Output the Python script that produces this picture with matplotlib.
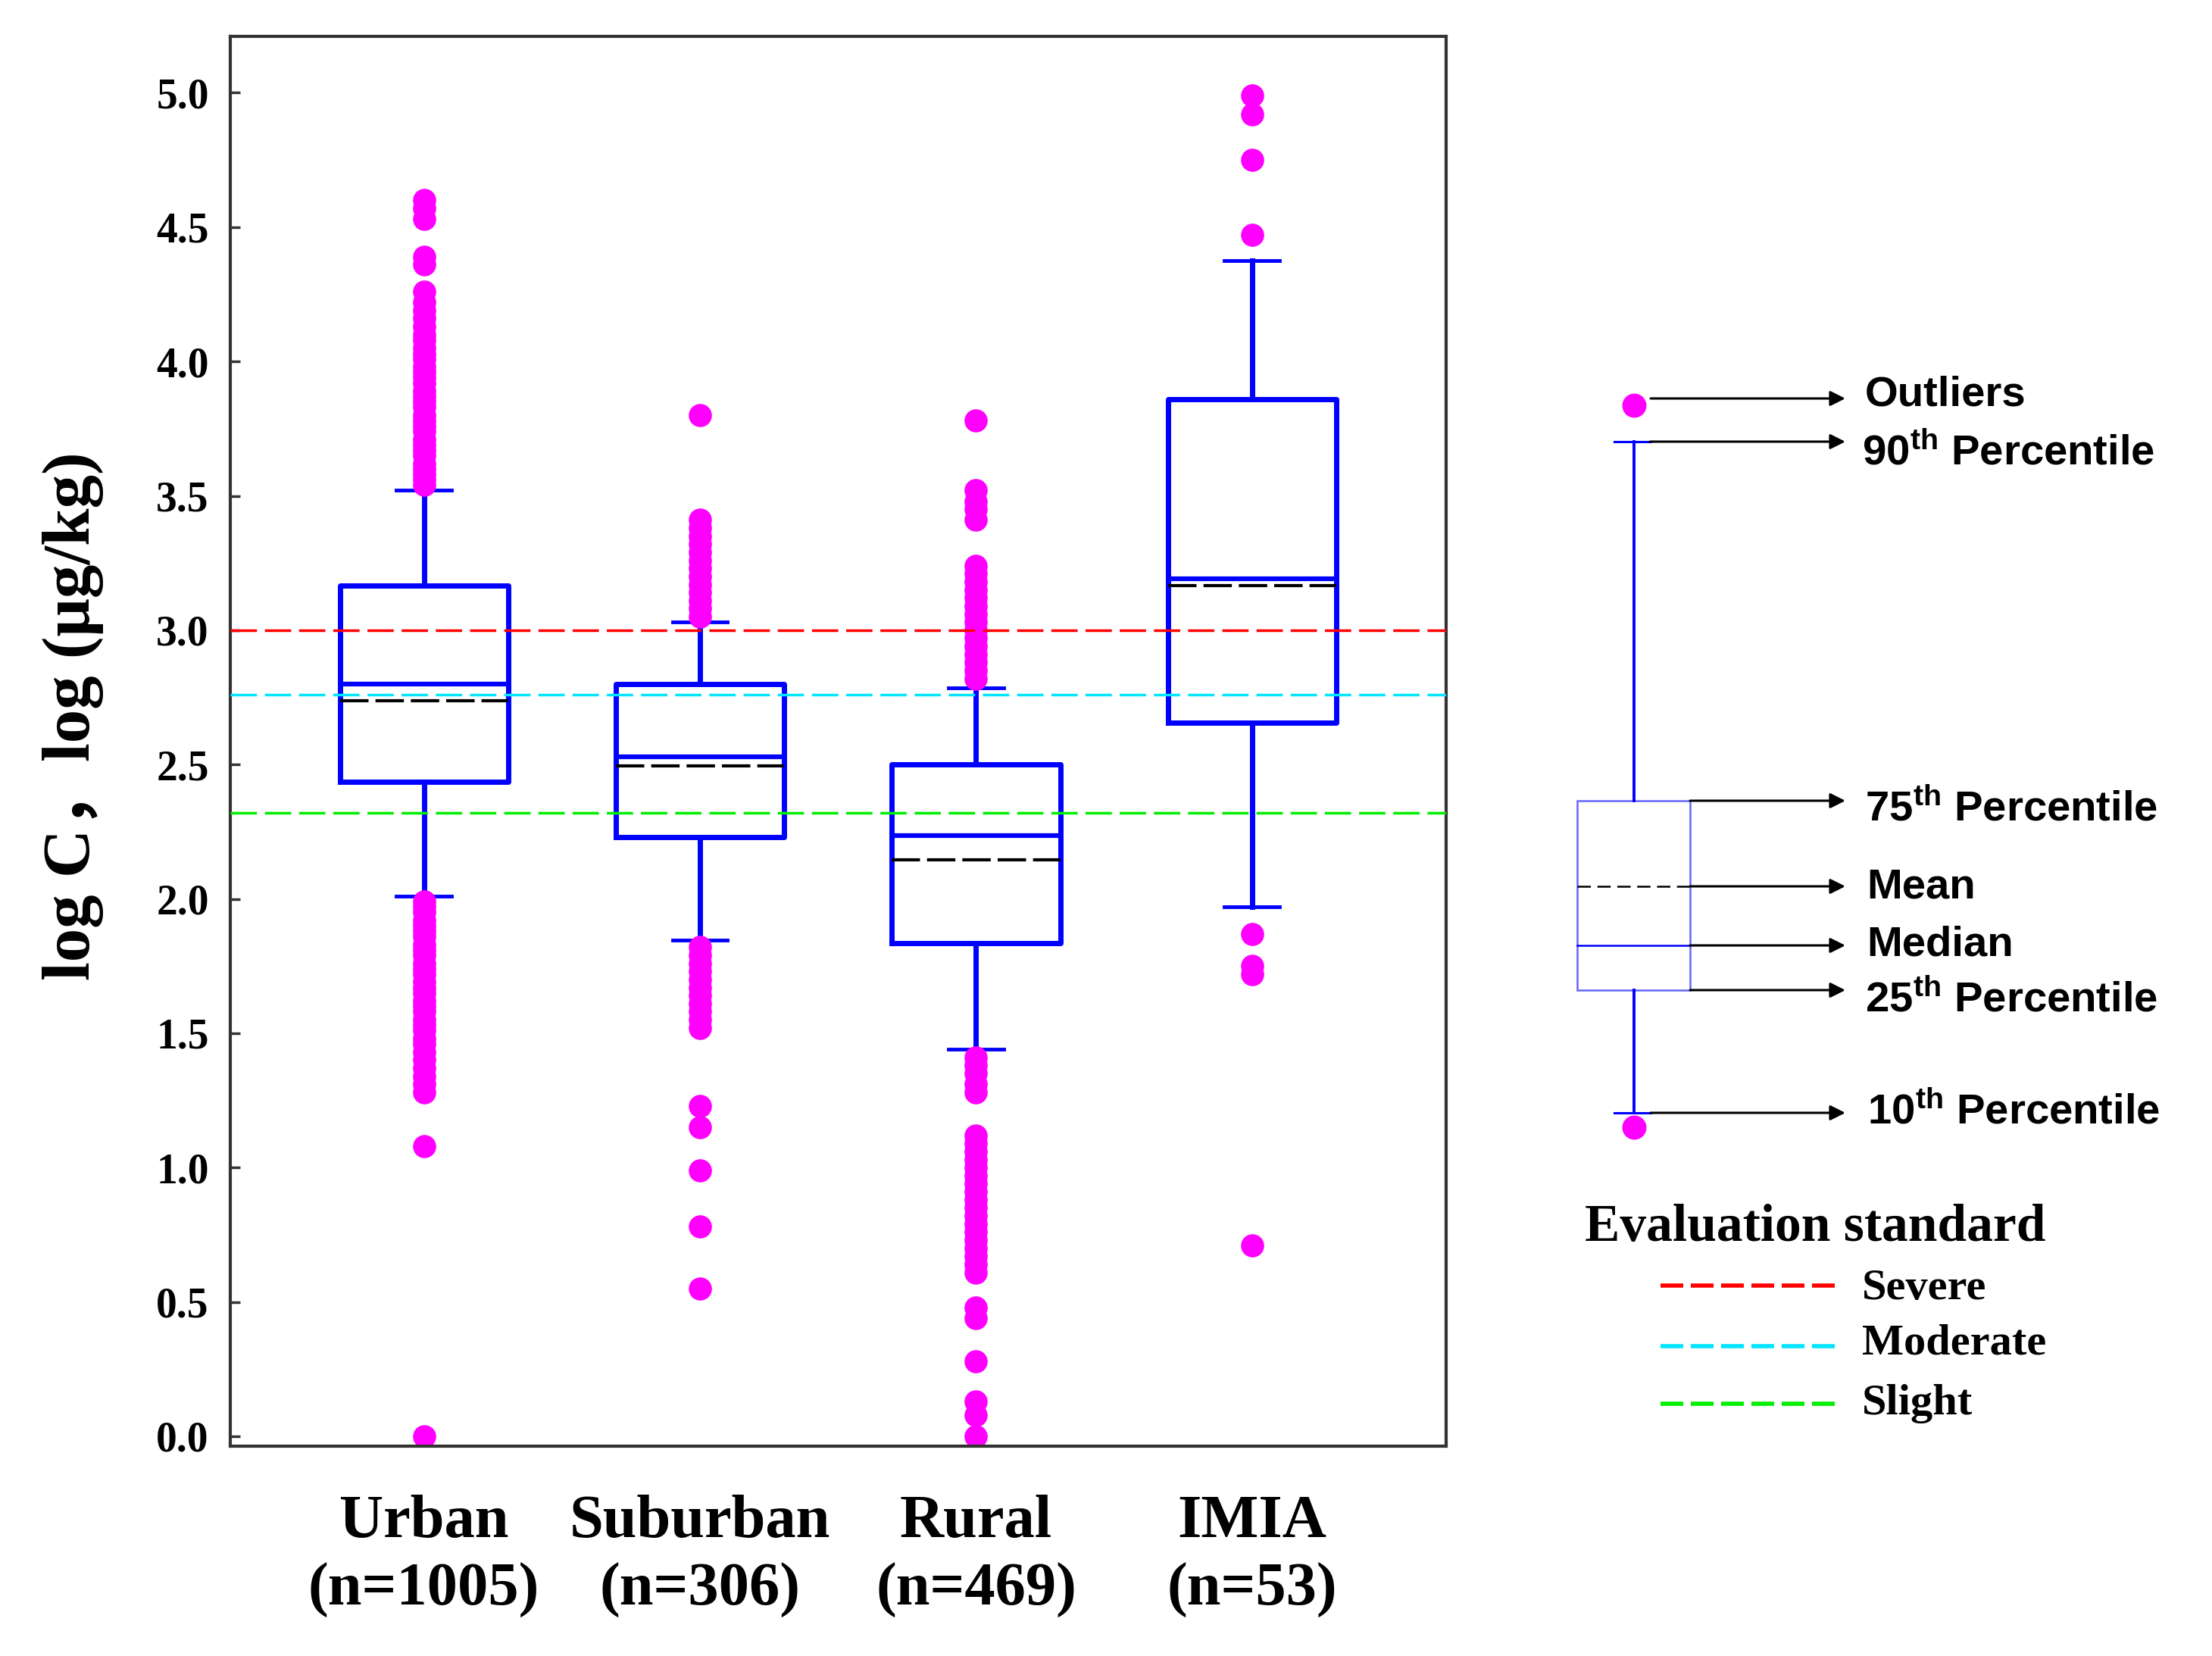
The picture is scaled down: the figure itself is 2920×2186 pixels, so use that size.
import numpy as np
import matplotlib
matplotlib.use('Agg')
import matplotlib.pyplot as plt
from matplotlib.patches import Rectangle

plt.rcParams['mathtext.fontset'] = 'custom'
plt.rcParams['mathtext.rm'] = 'Liberation Sans:bold'
plt.rcParams['mathtext.it'] = 'Liberation Sans:bold'
plt.rcParams['mathtext.bf'] = 'Liberation Sans:bold'
plt.rcParams['mathtext.default'] = 'rm'

# ---------------- data ----------------
categories = ['Urban', 'Suburban', 'Rural', 'IMIA']
sample_sizes = [1005, 306, 469, 53]
p10 = [2.01, 1.845, 1.44, 1.97]
q1 = [2.435, 2.23, 1.835, 2.655]
medians = [2.80, 2.53, 2.235, 3.19]
means = [2.737, 2.495, 2.145, 3.165]
q3 = [3.165, 2.80, 2.50, 3.86]
p90 = [3.52, 3.03, 2.785, 4.375]

outliers_urban = [3.54, 3.56, 3.58, 3.60, 3.62, 3.65, 3.67, 3.69, 3.71, 3.74, 3.76, 3.78,
                  3.80, 3.83, 3.85, 3.87, 3.89, 3.92, 3.94, 3.96, 3.98, 4.01, 4.03, 4.05,
                  4.08, 4.10, 4.13, 4.16, 4.19, 4.22, 4.26, 4.36, 4.39, 4.53, 4.57, 4.60,
                  1.99, 1.97, 1.95, 1.92, 1.90, 1.88, 1.86, 1.83, 1.81, 1.79, 1.76, 1.74,
                  1.72, 1.69, 1.67, 1.65, 1.62, 1.60, 1.58, 1.55, 1.53, 1.51, 1.48, 1.46,
                  1.43, 1.40, 1.37, 1.34, 1.31, 1.28, 1.08, 0.0]
outliers_suburban = [3.80, 3.41, 3.38, 3.35, 3.32, 3.29, 3.26, 3.23, 3.20, 3.17, 3.14, 3.11,
                     3.08, 3.05, 1.82, 1.79, 1.76, 1.73, 1.70, 1.67, 1.64, 1.61, 1.58, 1.55,
                     1.52, 1.23, 1.15, 0.99, 0.78, 0.55]
outliers_rural = [3.78, 3.52, 3.48, 3.45, 3.41, 3.24, 3.21, 3.18, 3.15, 3.12, 3.09, 3.06,
                  3.03, 3.00, 2.97, 2.94, 2.91, 2.88, 2.85, 2.82, 1.41, 1.38, 1.35, 1.31,
                  1.28, 1.12, 1.09, 1.06, 1.03, 1.00, 0.97, 0.94, 0.91, 0.88, 0.85, 0.82,
                  0.79, 0.76, 0.73, 0.70, 0.67, 0.64, 0.61, 0.48, 0.44, 0.28, 0.13, 0.08, 0.0]
outliers_imia = [4.99, 4.92, 4.75, 4.47, 1.87, 1.75, 1.72, 0.71]
outliers = [outliers_urban, outliers_suburban, outliers_rural, outliers_imia]

standard_labels = ['Severe', 'Moderate', 'Slight']
standard_values = [3.0, 2.76, 2.32]
standard_colors = ['#FF0000', '#00E5FF', '#00EE00']

yticks = [0.0, 0.5, 1.0, 1.5, 2.0, 2.5, 3.0, 3.5, 4.0, 4.5, 5.0]

# ---------------- figure ----------------
W, H = 2920, 2186
fig = plt.figure(figsize=(W / 100, H / 100), dpi=100)
ax = fig.add_axes([303.5 / W, 1 - 1909 / H, (1909 - 303.5) / W, (1909 - 48) / H])

SERIF = 'Liberation Serif'
SANS = 'Liberation Sans'
BLUE = '#0000FF'
MAG = '#FF00FF'

stats = []
for i, c in enumerate(categories):
    stats.append(dict(med=medians[i], q1=q1[i], q3=q3[i], whislo=p10[i], whishi=p90[i],
                      mean=means[i], fliers=np.array(outliers[i]), label=c))

positions = np.arange(1, len(categories) + 1)
ax.bxp(stats, positions=positions, widths=0.61, capwidths=0.2,
       showmeans=True, meanline=True, showfliers=True, patch_artist=False,
       boxprops=dict(color=BLUE, linewidth=5),
       whiskerprops=dict(color=BLUE, linewidth=5),
       capprops=dict(color=BLUE, linewidth=3.5),
       medianprops=dict(color=BLUE, linewidth=4.5),
       meanprops=dict(color='black', linewidth=3, linestyle=(0, (9, 2.2))),
       flierprops=dict(marker='o', markerfacecolor=MAG, markeredgecolor=MAG,
                       markersize=21, linestyle='none'))

for v, col in zip(standard_values, standard_colors):
    ax.axhline(v, color=col, linewidth=2.5, linestyle=(0, (10, 3)), zorder=3)

ax.set_xlim(0.297, 4.703)
ax.set_ylim(-0.037, 5.21)
ax.set_yticks(yticks)
ax.set_yticklabels([f'{t:.1f}' for t in yticks], fontfamily=SERIF, fontweight='bold', fontsize=40)
ax.set_xticks(positions)
ax.set_xticklabels([f'{c}\n(n={n})' for c, n in zip(categories, sample_sizes)],
                   fontfamily=SERIF, fontweight='bold', fontsize=58, linespacing=1.3)
ax.tick_params(axis='y', direction='in', length=9, width=2.5, pad=20, color='#333333')
ax.tick_params(axis='x', length=0, pad=46)
for s in ax.spines.values():
    s.set_color('#333333')
    s.set_linewidth(3)

fig.text(97 / W, 1 - 945 / H, 'log C\uff0clog (\u03bcg/kg)', rotation=90, ha='center', va='center',
         fontsize=64, fontweight='bold', family=[SERIF, 'Noto Sans CJK SC'])

# ---------------- legend (schematic, pixel overlay) ----------------
lg = fig.add_axes([0, 0, 1, 1])
lg.set_xlim(0, W)
lg.set_ylim(H, 0)
lg.axis('off')

wx = 2157
lg.plot([wx, wx], [583, 1057], color=BLUE, lw=2.8)
lg.plot([wx, wx], [1307, 1469], color=BLUE, lw=2.8)
lg.plot([2131, 2179], [583, 583], color=BLUE, lw=2.2)
lg.plot([2131, 2179], [1469, 1469], color=BLUE, lw=2.2)
lg.add_patch(Rectangle((2082, 1057), 149, 250, fill=False, edgecolor='#6464FF', lw=1.8))
lg.plot([2082, 2231], [1248, 1248], color=BLUE, lw=1.8)
lg.plot([2082, 2231], [1170, 1170], color='black', lw=1.8, linestyle=(0, (7, 3.5)))
lg.plot([wx], [535], 'o', color=MAG, ms=22)
lg.plot([wx], [1488], 'o', color=MAG, ms=22)

arrows = [(2179, 526), (2178, 583), (2231, 1057), (2231, 1170), (2231, 1248), (2231, 1307), (2179, 1469)]
for x0, y in arrows:
    lg.annotate('', xy=(2436, y), xytext=(x0, y), xycoords='data', textcoords='data',
                arrowprops=dict(arrowstyle='-|>', color='black', lw=2.2, mutation_scale=30,
                                shrinkA=0, shrinkB=0))

schem_labels = [('Outliers', 2462, 535), ('$90^{th}$ Percentile', 2458, 614),
                ('$75^{th}$ Percentile', 2462, 1084), ('Mean', 2464, 1185),
                ('Median', 2464, 1262), ('$25^{th}$ Percentile', 2462, 1335),
                ('$10^{th}$ Percentile', 2465, 1484)]
for t, x, y in schem_labels:
    lg.text(x, y, t, ha='left', va='baseline', fontsize=40.5, fontweight='bold', fontfamily=SANS)

lg.text(2092, 1638, 'Evaluation standard', ha='left', va='baseline', fontsize=50,
        fontweight='bold', fontfamily=SERIF)
leg_y = [1697, 1777, 1853]
leg_base = [1715, 1788, 1867]
for lab, col, y, yb in zip(standard_labels, standard_colors, leg_y, leg_base):
    lg.plot([2192, 2423], [y, y], color=col, lw=4, linestyle=(0, (5.4, 1.8)))
    lg.text(2458, yb, lab, ha='left', va='baseline', fontsize=42, fontweight='bold', fontfamily=SERIF)

fig.savefig('out.png', dpi=100)
